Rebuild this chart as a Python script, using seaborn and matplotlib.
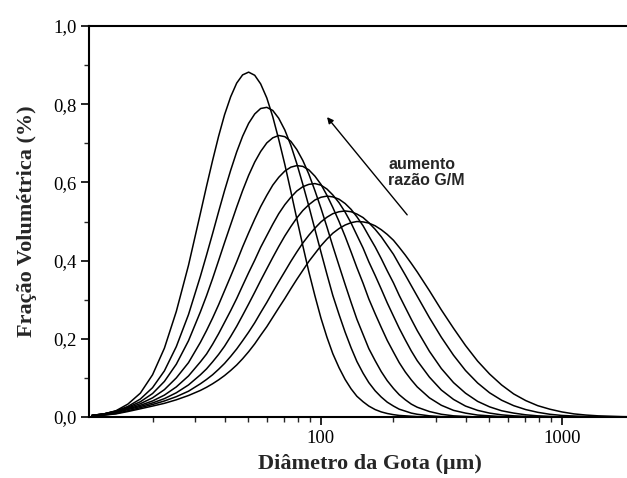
import numpy as np
import pandas as pd
import matplotlib
matplotlib.use("Agg")
import matplotlib.pyplot as plt
from matplotlib.ticker import LogLocator, NullFormatter, FixedLocator, MultipleLocator
import seaborn as sns

# droplet diameter classes (µm)
diameter = [11.2, 12.6, 14.1, 15.8, 17.8, 20.0, 22.4, 25.1, 28.2, 31.6, 35.5, 39.8,
            44.7, 50.1, 56.2, 63.1, 70.8, 79.4, 89.1, 100, 112, 126, 141, 158, 178,
            200, 224, 251, 282, 316, 355, 398, 447, 501, 562, 631, 708, 794, 891,
            1000, 1122, 1259, 1413, 1585, 1778, 1995]
# extra readings around the peaks (µm)
diameter_mid = [33.5, 37.6, 42.2, 47.3, 53.1, 59.6, 66.8, 75.0, 84.1, 94.4, 105.9,
                118.9, 133.4, 149.6, 167.9, 188.4, 211.3, 237.1]

curve1 = [0.004, 0.008, 0.016, 0.033, 0.061, 0.108, 0.176, 0.270, 0.388, 0.521, 0.656, 0.773,
          0.854, 0.882, 0.852, 0.768, 0.646, 0.507, 0.371, 0.253, 0.162, 0.096, 0.053, 0.028,
          0.013, 0.006, 0.003, 0.001] + [0.0] * 18
curve2 = [0.004, 0.008, 0.015, 0.027, 0.046, 0.075, 0.118, 0.180, 0.262, 0.360, 0.469, 0.579,
          0.678, 0.751, 0.789, 0.784, 0.734, 0.648, 0.539, 0.422, 0.311, 0.217, 0.142, 0.088,
          0.051, 0.028, 0.015, 0.007, 0.003, 0.001] + [0.0] * 16
curve3 = [0.004, 0.008, 0.015, 0.025, 0.039, 0.060, 0.091, 0.135, 0.195, 0.269, 0.354, 0.446,
          0.537, 0.618, 0.679, 0.714, 0.717, 0.684, 0.621, 0.534, 0.437, 0.339, 0.250, 0.175,
          0.116, 0.073, 0.044, 0.025, 0.014, 0.007, 0.003, 0.0015] + [0.0] * 14
curve4 = [0.004, 0.008, 0.014, 0.023, 0.034, 0.049, 0.070, 0.100, 0.139, 0.191, 0.253, 0.323,
          0.397, 0.471, 0.538, 0.593, 0.629, 0.643, 0.632, 0.595, 0.536, 0.462, 0.382, 0.302,
          0.229, 0.166, 0.115, 0.077, 0.049, 0.030, 0.017, 0.010, 0.005, 0.003, 0.001] + [0.0] * 11
curve5 = [0.004, 0.007, 0.013, 0.021, 0.030, 0.041, 0.056, 0.077, 0.105, 0.141, 0.186, 0.242,
          0.303, 0.369, 0.434, 0.493, 0.543, 0.578, 0.595, 0.593, 0.568, 0.524, 0.465, 0.397,
          0.327, 0.258, 0.197, 0.144, 0.102, 0.069, 0.045, 0.028, 0.017, 0.010, 0.0055, 0.003,
          0.0015] + [0.0] * 9
curve6 = [0.003, 0.006, 0.011, 0.019, 0.027, 0.036, 0.047, 0.062, 0.082, 0.108, 0.141, 0.181,
          0.232, 0.289, 0.349, 0.408, 0.463, 0.509, 0.543, 0.562, 0.563, 0.546, 0.512, 0.463,
          0.405, 0.343, 0.280, 0.221, 0.168, 0.124, 0.088, 0.061, 0.040, 0.026, 0.016, 0.010,
          0.0056, 0.003, 0.0016] + [0.0] * 7
curve7 = [0.003, 0.005, 0.009, 0.016, 0.024, 0.032, 0.041, 0.052, 0.066, 0.085, 0.108, 0.137,
          0.174, 0.217, 0.267, 0.320, 0.372, 0.422, 0.465, 0.499, 0.520, 0.527, 0.519, 0.497,
          0.461, 0.416, 0.363, 0.309, 0.254, 0.204, 0.158, 0.119, 0.087, 0.062, 0.043, 0.029,
          0.019, 0.012, 0.007, 0.004, 0.0025, 0.0013] + [0.0] * 4
curve8 = [0.003, 0.005, 0.008, 0.014, 0.021, 0.028, 0.035, 0.044, 0.055, 0.068, 0.085, 0.106,
          0.133, 0.167, 0.209, 0.255, 0.303, 0.352, 0.398, 0.438, 0.470, 0.491, 0.500, 0.496,
          0.479, 0.452, 0.414, 0.371, 0.323, 0.274, 0.227, 0.183, 0.143, 0.110, 0.082, 0.059,
          0.042, 0.029, 0.020, 0.013, 0.008, 0.005, 0.003, 0.002, 0.001, 0.0005]

curve1_mid = [0.590, 0.718, 0.819, 0.875, 0.874, 0.816, 0.710, 0.577, 0.438, 0.310, 0.204,
              0.126, 0.072, 0.039, 0.019, 0.009, 0.004, 0.002]
curve2_mid = [0.414, 0.525, 0.631, 0.718, 0.775, 0.792, 0.764, 0.695, 0.595, 0.480, 0.365,
              0.262, 0.177, 0.112, 0.067, 0.038, 0.020, 0.010]
curve3_mid = [0.310, 0.400, 0.492, 0.579, 0.652, 0.701, 0.720, 0.705, 0.656, 0.579, 0.486,
              0.387, 0.293, 0.211, 0.144, 0.093, 0.057, 0.033]
curve4_mid = [0.221, 0.287, 0.360, 0.435, 0.506, 0.567, 0.613, 0.639, 0.641, 0.616, 0.567,
              0.500, 0.422, 0.342, 0.264, 0.196, 0.139, 0.095]
curve5_mid = [0.161, 0.213, 0.272, 0.336, 0.401, 0.464, 0.520, 0.562, 0.589, 0.597, 0.583,
              0.548, 0.496, 0.432, 0.362, 0.292, 0.227, 0.169]
curve6_mid = [0.123, 0.160, 0.206, 0.260, 0.319, 0.379, 0.436, 0.487, 0.528, 0.555, 0.565,
              0.557, 0.531, 0.489, 0.435, 0.374, 0.311, 0.250]
curve7_mid = [0.096, 0.122, 0.155, 0.195, 0.241, 0.293, 0.346, 0.398, 0.445, 0.483, 0.511,
              0.525, 0.525, 0.510, 0.480, 0.439, 0.390, 0.336]
curve8_mid = [0.076, 0.095, 0.119, 0.149, 0.187, 0.231, 0.279, 0.328, 0.375, 0.418, 0.455,
              0.482, 0.497, 0.499, 0.489, 0.467, 0.434, 0.393]

curves = [curve1, curve2, curve3, curve4, curve5, curve6, curve7, curve8]
curves_mid = [curve1_mid, curve2_mid, curve3_mid, curve4_mid, curve5_mid, curve6_mid,
              curve7_mid, curve8_mid]

y_ticks = [0.0, 0.2, 0.4, 0.6, 0.8, 1.0]
y_tick_labels = ["0,0", "0,2", "0,4", "0,6", "0,8", "1,0"]
x_ticks = [100, 1000]
x_tick_labels = ["100", "1000"]

rows = []
for k, (c, cm) in enumerate(zip(curves, curves_mid)):
    for d, v in zip(diameter, c):
        rows.append({"d": d, "v": v, "curve": k})
    for d, v in zip(diameter_mid, cm):
        rows.append({"d": d, "v": v, "curve": k})
df = pd.DataFrame(rows).sort_values(["curve", "d"]).reset_index(drop=True)

sns.set_style("ticks")
plt.rcParams["font.family"] = ["Liberation Serif", "DejaVu Serif"]

fig = plt.figure(figsize=(6.27, 4.78), dpi=100)
ax = fig.add_axes([0.142, 0.1276, 0.896, 0.818])

sns.lineplot(data=df, x="d", y="v", units="curve", estimator=None, color="black",
             linewidth=1.1, ax=ax, legend=False, sort=True)

ax.set_xscale("log")
ax.set_xlim(10.9, 2340)
ax.set_ylim(0, 1.0)

ax.xaxis.set_major_locator(FixedLocator(x_ticks))
ax.set_xticklabels(x_tick_labels)
ax.xaxis.set_minor_locator(LogLocator(base=10, subs=[2, 3, 4, 5, 6, 7, 8, 9]))
ax.xaxis.set_minor_formatter(NullFormatter())
ax.set_yticks(y_ticks)
ax.set_yticklabels(y_tick_labels)
ax.yaxis.set_minor_locator(MultipleLocator(0.1))

ax.tick_params(which="major", direction="out", length=6, width=1.2, labelsize=13.5,
               colors="black", pad=3)
ax.tick_params(which="minor", direction="out", length=3.5, width=1.0)

for side in ["left", "bottom", "top", "right"]:
    ax.spines[side].set_linewidth(1.5)
    ax.spines[side].set_color("black")

ax.set_xlabel("Diâmetro da Gota (µm)", fontsize=16, fontweight="bold")
ax.set_ylabel("Fração Volumétrica (%)", fontsize=16, fontweight="bold")
ax.xaxis.set_label_coords(0.5, -0.095)
ax.yaxis.set_label_coords(-0.093, 0.5)

ax.annotate("", xy=(106, 0.767), xytext=(228, 0.517),
            arrowprops=dict(arrowstyle="-|>", color="black", lw=1.0, mutation_scale=9,
                            shrinkA=0, shrinkB=0))
ax.text(190, 0.664, "aumento\nrazão G/M", fontsize=11.5, fontweight="bold",
        family=["Liberation Sans", "DejaVu Sans"], ha="left", va="top", linespacing=1.05)

fig.savefig("out.png", dpi=100)
